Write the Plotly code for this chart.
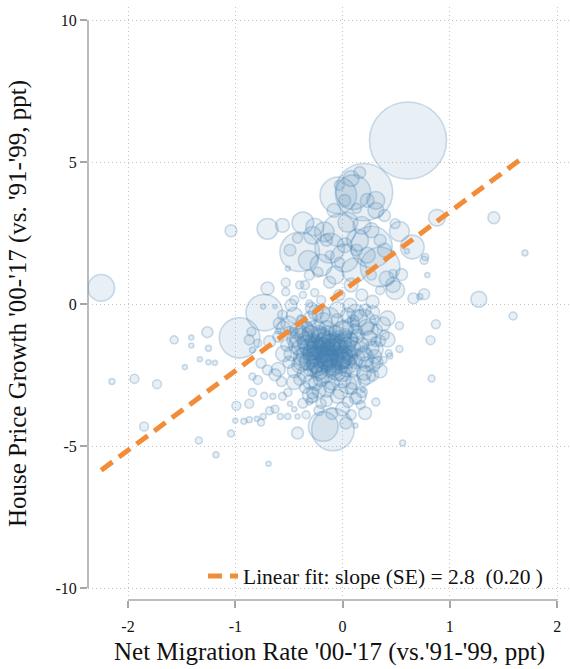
import plotly.graph_objects as go

# ---- Commuting zones: net migration change vs house price growth change ----
# Large / isolated zones
mig_a = [0.61, 0.20, -0.04, 0.10, -0.40, 0.27, -0.03, 0.35, -0.96, -0.09,
         -0.18, -0.73, -2.25, -0.37, -0.70, -0.56, -1.04, -0.26, 0.65, 0.53,
         0.88, 1.41, 1.70, 1.27, 1.59, 0.87, 0.82, 0.53, 0.83, 0.76,
         0.66, 0.72, 0.79, 0.49, 0.42, 0.53, 0.39, 0.55, 0.47, 0.76,
         0.77, 0.60, 0.49, 0.31, 0.31, 0.43, 0.38, 0.41, 0.47, 0.28,
         0.19, 0.31, -0.32, -0.28, -0.17, -0.70, -0.53, -0.53, -0.37, -0.26,
         -0.51, -0.74, -0.63, -0.45, -0.48, -0.56, -0.59, -0.87, -0.79, -0.68,
         -0.45, -0.39, -0.31, -0.29, -0.60, -0.84, -0.73, -0.99, -0.87, -1.00,
         -0.92, -0.87, -0.80, -0.76, -0.74, -0.68, -0.63, -0.58, -0.51, -0.56,
         -0.51, -0.65, -0.49, -0.45, -0.42, -0.34, -0.42, -1.04, -0.69, -0.37,
         -0.31, -0.63, -0.57, -0.79, -0.70, -0.76, 0.31, 0.17, 0.21, 0.12,
         0.03, 0.56, 0.19, 0.28, 0.44, -2.15, -1.94, -1.73, -1.85, -1.57,
         -1.41, -1.41, -1.26, -1.25, -1.33, -1.25, -1.19, -1.47, -1.34, -1.18,
         -0.84, -0.85, -0.84]
hpg_a = [5.76, 3.94, 3.83, 3.94, 1.84, 2.01, 2.60, 1.31, -1.19, -4.42,
         -4.31, -0.30, 0.57, 2.86, 2.65, 2.77, 2.58, 2.71, 2.01, 2.56,
         3.04, 3.04, 1.80, 0.17, -0.42, -0.71, -1.27, -1.58, -2.62, 0.35,
         0.20, 0.26, 1.02, 0.49, -0.50, -0.76, -1.09, 1.04, 1.08, 1.54,
         1.66, 1.86, 2.83, 3.65, 3.30, -1.73, -1.97, 0.90, 0.67, 0.08,
         -0.62, -1.32, 1.54, 2.42, 2.54, 0.55, 0.76, 0.43, 0.32, 0.40,
         1.25, -0.09, -0.09, 0.14, -0.04, -0.39, -0.68, -1.26, -1.38, -1.32,
         -0.97, -0.50, 0.02, -0.15, -0.95, -3.11, -3.23, -3.58, -3.51, -4.10,
         -4.13, -4.07, -4.04, -4.17, -3.96, -3.76, -3.70, -3.96, -3.96, -3.25,
         -3.11, -3.25, -3.51, -3.70, -3.96, -3.90, -4.54, -4.56, -5.62, -3.49,
         -3.43, -2.49, -2.73, -2.67, -2.32, -2.08, -3.45, -3.55, -3.84, -4.28,
         -4.19, -4.89, -3.02, -2.14, -1.83, -2.73, -2.63, -2.82, -4.31, -1.26,
         -1.18, -1.46, -0.99, -1.56, -1.94, -2.05, -2.07, -2.22, -4.80, -5.31,
         -2.55, -0.97, -1.62]
pop_a = [6084, 3364, 1369, 1225, 1600, 1764, 1089, 1600, 1681, 1849,
         900, 1369, 729, 484, 441, 196, 144, 324, 576, 400,
         289, 144, 36, 256, 64, 81, 81, 49, 49, 121,
         121, 36, 25, 361, 225, 64, 100, 144, 64, 64,
         49, 25, 100, 324, 256, 49, 49, 225, 225, 169,
         625, 100, 400, 324, 400, 169, 81, 64, 49, 64,
         25, 25, 16, 81, 144, 100, 144, 100, 64, 144,
         64, 49, 49, 144, 36, 64, 49, 81, 81, 25,
         36, 36, 25, 49, 36, 64, 64, 36, 36, 64,
         64, 36, 25, 25, 25, 64, 144, 49, 25, 100,
         49, 144, 100, 81, 100, 100, 64, 81, 169, 25,
         144, 36, 25, 225, 36, 36, 81, 81, 81, 64,
         25, 25, 121, 36, 25, 25, 25, 25, 49, 36,
         49, 81, 36]

# Fast-growing metro zones (upper cluster)
mig_up = [-0.12, 0.02, 0.11, -0.20, -0.07, 0.14, 0.05, 0.18, 0.23, 0.08,
          -0.12, -0.23, -0.03, 0.18, 0.27, 0.35, 0.13, 0.02, 0.23, 0.08,
          0.16, -0.03, -0.08, -0.15, -0.31, -0.40, -0.20, -0.03, 0.07, 0.21,
          0.30, 0.02, 0.13, 0.35, 0.39, 0.27, 0.39, -0.12, -0.42, -0.49,
          -0.35]
hpg_up = [1.97, 1.62, 1.19, 1.37, 1.02, 2.25, 2.88, 2.77, 1.72, 0.67,
          0.77, 1.12, 1.47, 0.32, 1.02, 0.49, 3.37, 3.65, 3.65, 4.42,
          4.63, 4.18, 3.30, 2.25, 1.02, 0.67, 0.14, 0.32, -0.04, -0.21,
          -0.56, 2.07, 1.90, 2.25, 1.90, 2.60, 3.12, 1.72, 2.32, 1.90,
          0.67]
pop_up = [900, 784, 625, 484, 324, 484, 400, 324, 256, 196,
          144, 100, 100, 144, 100, 81, 100, 144, 196, 256,
          144, 100, 196, 144, 100, 64, 81, 121, 196, 144,
          100, 225, 144, 144, 196, 225, 144, 81, 100, 144,
          81]

# Typical zones (main cluster)
mig_cl = [-0.45, -0.30, -0.20, -0.05, 0.05, 0.15, 0.28, -0.38, -0.12, 0.10,
          -0.55, -0.42, -0.33, -0.25, -0.15, -0.07, 0.02, 0.12, 0.22, 0.32, -0.50, 0.08,
          -0.60, -0.45, -0.36, -0.28, -0.20, -0.12, -0.04, 0.05, 0.14, 0.25, 0.35, -0.30, -0.18,
          -0.52, -0.40, -0.33, -0.26, -0.19, -0.13, -0.08, -0.02, 0.04, 0.10, 0.18, 0.27, -0.22, -0.10, 0.00,
          -0.48, -0.38, -0.30, -0.24, -0.18, -0.12, -0.06, 0.00, 0.06, 0.13, 0.20, 0.30, -0.15, -0.27, -0.02,
          -0.50, -0.40, -0.32, -0.25, -0.18, -0.10, -0.03, 0.05, 0.12, 0.22, 0.32, -0.14,
          -0.45, -0.35, -0.26, -0.17, -0.08, 0.00, 0.10, 0.20, 0.28, -0.22,
          -0.40, -0.30, -0.20, -0.10, 0.00, 0.10, 0.20, -0.25,
          -0.35, -0.22, -0.12, -0.02, 0.08, 0.18, -0.28,
          -0.28, -0.15, -0.05, 0.05, 0.12, -0.20,
          -0.22, -0.10, 0.00, 0.08]
hpg_cl = [-0.40, -0.50, -0.35, -0.55, -0.40, -0.50, -0.30, -0.60, -0.45, -0.60,
          -0.85, -0.95, -0.80, -0.92, -0.85, -0.98, -0.88, -0.95, -0.82, -0.90, -1.00, -0.78,
          -1.15, -1.25, -1.12, -1.28, -1.18, -1.22, -1.15, -1.28, -1.12, -1.20, -1.30, -1.05, -1.30,
          -1.45, -1.55, -1.42, -1.58, -1.48, -1.55, -1.42, -1.58, -1.45, -1.52, -1.44, -1.56, -1.60, -1.50, -1.40,
          -1.75, -1.85, -1.72, -1.88, -1.78, -1.90, -1.72, -1.85, -1.76, -1.88, -1.74, -1.85, -1.70, -1.80, -1.95,
          -2.05, -2.15, -2.02, -2.18, -2.08, -2.20, -2.05, -2.15, -2.02, -2.12, -2.05, -2.00,
          -2.35, -2.45, -2.32, -2.48, -2.36, -2.45, -2.32, -2.42, -2.50, -2.40,
          -2.65, -2.75, -2.62, -2.78, -2.66, -2.74, -2.68, -2.80,
          -2.95, -3.05, -2.92, -3.08, -2.98, -3.10, -3.12,
          -3.30, -3.40, -3.25, -3.45, -3.32, -3.50,
          -3.75, -3.85, -3.70, -3.90]
pop_cl = [256, 196, 324, 144, 225, 289, 196, 121, 361, 144,
          196, 256, 121, 400, 225, 144, 324, 196, 256, 121, 144, 289,
          121, 225, 324, 196, 441, 256, 144, 361, 196, 225, 121, 289, 256,
          144, 256, 361, 225, 324, 196, 484, 289, 256, 400, 196, 225, 324, 256, 361,
          196, 289, 256, 400, 324, 361, 225, 441, 256, 289, 225, 196, 324, 256, 400,
          144, 256, 324, 225, 361, 289, 256, 324, 196, 225, 144, 400,
          196, 256, 225, 324, 289, 256, 196, 225, 144, 289,
          144, 225, 256, 196, 289, 225, 144, 196,
          121, 196, 144, 225, 144, 121, 144,
          100, 144, 196, 121, 144, 100,
          100, 144, 196, 100]

# Core of the cluster
mig_core = [-0.30, -0.22, -0.14, -0.06, 0.02,
            -0.34, -0.26, -0.16, -0.08, 0.00, 0.08,
            -0.32, -0.24, -0.17, -0.11, -0.04, 0.03, 0.10,
            -0.36, -0.28, -0.20, -0.13, -0.07, 0.01, 0.07,
            -0.33, -0.25, -0.17, -0.10, -0.02, 0.05,
            -0.30, -0.21, -0.13, -0.05, 0.03,
            -0.20, -0.12, -0.25, -0.05, -0.15, -0.22, -0.08, 0.00, -0.30, -0.18]
hpg_core = [-1.05, -1.00, -1.08, -1.02, -1.10,
            -1.30, -1.35, -1.30, -1.38, -1.32, -1.25,
            -1.55, -1.62, -1.50, -1.60, -1.52, -1.65, -1.55,
            -1.80, -1.85, -1.75, -1.82, -1.90, -1.78, -1.88,
            -2.05, -2.10, -2.00, -2.08, -2.15, -2.02,
            -2.30, -2.35, -2.28, -2.40, -2.32,
            -1.20, -1.45, -1.45, -1.70, -1.95, -2.20, -2.25, -2.00, -1.70, -1.65]
pop_core = [256, 196, 289, 225, 169,
            324, 225, 361, 256, 289, 196,
            289, 400, 324, 441, 289, 361, 225,
            256, 361, 289, 400, 324, 289, 225,
            225, 324, 256, 361, 289, 196,
            196, 256, 225, 289, 169,
            361, 484, 289, 400, 441, 324, 256, 289, 225, 529]

# Edge of the cluster
mig_edge = [-0.50, -0.42, -0.38, -0.45, -0.30, 0.25, 0.30, 0.22, 0.15, 0.35,
            -0.05, -0.25, 0.12, -0.55, -0.35, 0.05, -0.15, 0.38, 0.42, -0.60,
            0.00, -0.18, 0.20, -0.40]
hpg_edge = [-0.70, -1.45, -2.05, -2.75, -3.20, -0.95, -1.60, -2.50, -3.25, -2.35,
            -0.20, -0.30, -0.30, -1.75, -0.95, -2.85, -3.00, -0.70, -1.25, -2.30,
            -0.95, -0.62, -1.90, -1.20]
pop_edge = [256, 324, 289, 225, 256, 324, 289, 361, 225, 196,
            256, 225, 289, 256, 361, 324, 256, 196, 225, 196,
            400, 324, 400, 400]

# Linear fit reported in the legend
fit_slope = 2.8
fit_se = 0.20
fit_intercept = 0.45
fit_x = [-2.25, 1.70]

x_ticks = [-2, -1, 0, 1, 2]
x_ticktext = ["-2", "-1", "0", "1", "2"]
y_ticks = [-10, -5, 0, 5, 10]
y_ticktext = ["-10", "-5", "0", "5", "10"]

mig = mig_a + mig_up + mig_cl + mig_core + mig_edge
hpg = hpg_a + hpg_up + hpg_cl + hpg_core + hpg_edge
pop = pop_a + pop_up + pop_cl + pop_core + pop_edge

SERIF = "Liberation Serif, Times New Roman, serif"
MAX_DIAM = 77

fig = go.Figure()
fig.add_trace(go.Scatter(
    x=mig, y=hpg, mode="markers", showlegend=False, hoverinfo="skip",
    marker=dict(
        size=pop, sizemode="area", sizeref=2.0 * max(pop) / MAX_DIAM ** 2,
        color="rgba(70,130,180,0.17)",
        line=dict(color="rgba(70,130,180,0.4)", width=1.6),
    ),
))

fit_y = [fit_intercept + fit_slope * v for v in fit_x]
fig.add_trace(go.Scatter(
    x=fit_x, y=fit_y, mode="lines",
    name=f"Linear fit: slope (SE) = {fit_slope}\u00a0 ({fit_se:.2f} )",
    line=dict(color="#f28c38", width=5, dash="14px,8px"),
))

grid = dict(showgrid=True, gridcolor="#c4c4c4", gridwidth=1, griddash="1px,3px",
            zeroline=False, showline=False, ticks="outside", ticklen=7,
            tickwidth=1.5, tickcolor="#a6a6a6",
            tickfont=dict(family=SERIF, size=16, color="#111"))

fig.update_xaxes(range=[-2.373, 2.12], tickvals=x_ticks, ticktext=x_ticktext,
                 ticklabelstandoff=5, **grid)
fig.update_yaxes(range=[-10.42, 10.46], tickvals=y_ticks, ticktext=y_ticktext, **grid)

# Axis lines spanning only the labelled range
fig.add_shape(type="line", xref="x", yref="paper", x0=-2, x1=2, y0=0, y1=0,
              line=dict(color="#a6a6a6", width=1.5), layer="below")
fig.add_shape(type="line", xref="paper", yref="y", x0=0, x1=0, y0=-10, y1=10,
              line=dict(color="#a6a6a6", width=1.5), layer="below")

fig.add_annotation(text="Net Migration Rate '00-'17 (vs.'91-'99, ppt)",
                   xref="paper", yref="paper", x=0.502, y=0, yshift=-52,
                   xanchor="center", yanchor="middle", showarrow=False,
                   font=dict(family=SERIF, size=25, color="#111"))
fig.add_annotation(text="House Price Growth '00-'17 (vs. '91-'99, ppt)",
                   xref="paper", yref="y", x=0, y=0, xshift=-70,
                   xanchor="center", yanchor="middle", textangle=-90, showarrow=False,
                   font=dict(family=SERIF, size=25, color="#111"))

fig.update_layout(
    width=570, height=669,
    margin=dict(l=88, r=0, t=7, b=69),
    plot_bgcolor="white", paper_bgcolor="white",
    showlegend=True,
    legend=dict(x=0.2386, xanchor="left", y=0.0405, yanchor="middle",
                bgcolor="rgba(0,0,0,0)", font=dict(family=SERIF, size=21.5, color="#111")),
)

fig.write_html("out.html")
